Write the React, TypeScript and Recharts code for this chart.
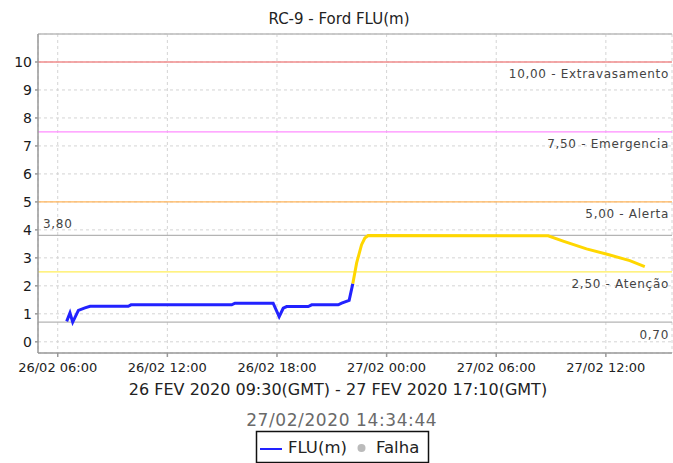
import { LineChart, Line, XAxis, YAxis, CartesianGrid, ReferenceLine } from "recharts";

// hours counted from 26/02 00:00
const blueHours = [6.49, 6.67, 6.82, 7.13, 7.49, 7.77, 9.86, 10.01, 15.52, 15.7, 17.79, 18.12, 18.34, 18.53, 19.71, 19.9, 21.35, 21.54, 21.95, 22.15];
const blueLevels = [0.73, 1.03, 0.7, 1.12, 1.21, 1.27, 1.27, 1.32, 1.32, 1.38, 1.38, 0.9, 1.2, 1.26, 1.26, 1.32, 1.32, 1.38, 1.48, 2.08];

const yellowHours = [22.15, 22.36, 22.63, 22.81, 22.99, 32.84, 33.66, 34.94, 36.12, 37.31, 38.13];
const yellowLevels = [2.08, 2.82, 3.47, 3.71, 3.8, 3.79, 3.6, 3.32, 3.12, 2.9, 2.69];

const hourTicks = [6, 12, 18, 24, 30, 36];
const levelTicks = [0, 1, 2, 3, 4, 5, 6, 7, 8, 9, 10];

const thresholdValues = [10, 7.5, 5, 3.8, 2.5, 0.7];
const thresholdLabels = ["10,00 - Extravasamento", "7,50 - Emergencia", "5,00 - Alerta", "3,80", "2,50 - Atenção", "0,70"];
const thresholdColors = ["#f08c8c", "#ff8cff", "#ffb45a", "#b4b4b4", "#ffee58", "#b4b4b4"];

const blueData = blueHours.map((h, i) => ({ h, v: blueLevels[i] }));
const yellowData = yellowHours.map((h, i) => ({ h, v: yellowLevels[i] }));

const pad = (n: number) => (n < 10 ? "0" + n : "" + n);
const fmtHour = (h: number) => `${26 + Math.floor(h / 24)}/02 ${pad(h % 24)}:00`;

const font = "'DejaVu Sans', sans-serif";

function thresholdLabel(text: string, above: boolean) {
  return (props: any) => {
    const vb = props.viewBox || {};
    if (above) {
      return (
        <text x={vb.x + 5} y={vb.y - 7} fontSize={12} letterSpacing={0.7} fill="#444" fontFamily={font}>
          {text}
        </text>
      );
    }
    return (
      <text x={vb.x + vb.width - 3} y={vb.y + 16.5} textAnchor="end" fontSize={12} letterSpacing={0.7} fill="#444" fontFamily={font}>
        {text}
      </text>
    );
  };
}

export default function App() {
  return (
    <div style={{ position: "absolute", left: 0, top: 0, width: 673, height: 463, background: "#fff", fontFamily: font }}>
      <LineChart width={673} height={463} margin={{ top: 34, right: 1, left: 0, bottom: 90 }}>
        <CartesianGrid stroke="#d4d4d4" strokeDasharray="3 3" />
        <XAxis
          dataKey="h"
          type="number"
          domain={[4.92, 39.62]}
          ticks={hourTicks}
          tickFormatter={fmtHour}
          height={20}
          tickSize={4}
          tickMargin={6}
          stroke="#999"
          strokeWidth={1.5}
          tick={{ fontSize: 13, fill: "#222", fontFamily: font }}
          allowDataOverflow
        />
        <YAxis
          type="number"
          domain={[-0.4, 11]}
          ticks={levelTicks}
          width={38}
          tickSize={3}
          tickMargin={3}
          stroke="#999"
          strokeWidth={1.5}
          tick={{ fontSize: 14, fill: "#1a1a1a", fontFamily: font }}
          allowDataOverflow
        />
        <ReferenceLine y={11} stroke="#bbb" strokeWidth={1.5} />
        {thresholdValues.map((v, i) => (
          <ReferenceLine
            key={v}
            y={v}
            stroke={thresholdColors[i]}
            strokeWidth={1.3}
            label={thresholdLabel(thresholdLabels[i], v === 3.8)}
          />
        ))}
        <Line data={blueData} dataKey="v" type="linear" stroke="#2222ff" strokeWidth={3} dot={false} isAnimationActive={false} />
        <Line data={yellowData} dataKey="v" type="linear" stroke="#ffd700" strokeWidth={3} dot={false} isAnimationActive={false} />
      </LineChart>
      <svg width={673} height={463} style={{ position: "absolute", left: 0, top: 0, pointerEvents: "none" }}>
        <text x={339} y={24} textAnchor="middle" fontSize={15} fill="#222" fontFamily={font}>
          RC-9 - Ford FLU(m)
        </text>
        <text x={338} y={395} textAnchor="middle" fontSize={16} fill="#222" fontFamily={font}>
          26 FEV 2020 09:30(GMT) - 27 FEV 2020 17:10(GMT)
        </text>
        <text x={341.7} y={426} textAnchor="middle" fontSize={17} fill="#6a6a6a" fontFamily={font} letterSpacing={0.6}>
          27/02/2020 14:34:44
        </text>
        <rect x={256.5} y={431.5} width={172} height={31} fill="#fff" stroke="#111" strokeWidth={1.5} />
        <line x1={260} y1={449} x2={282} y2={449} stroke="#2222ff" strokeWidth={2} />
        <text x={288} y={453} fontSize={16.5} fill="#222" fontFamily={font}>
          FLU(m)
        </text>
        <circle cx={361.5} cy={448} r={4} fill="#bbb" />
        <text x={376} y={453} fontSize={16.5} fill="#222" fontFamily={font}>
          Falha
        </text>
      </svg>
    </div>
  );
}
